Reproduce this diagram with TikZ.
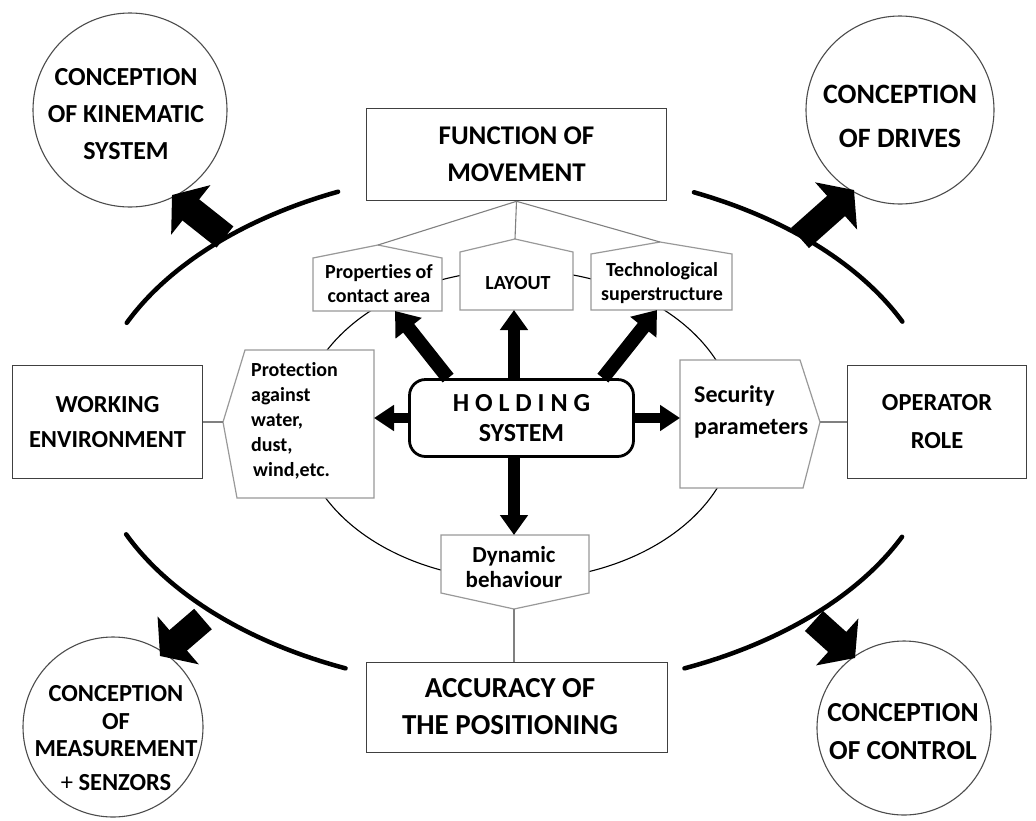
\documentclass[tikz,border=0pt]{standalone}
\usepackage{fontspec}
\setmainfont{Carlito}[Ligatures=NoCommon]
\usetikzlibrary{arrows.meta,shapes.geometric}
\begin{document}
\begin{tikzpicture}[x=1pt,y=-1pt,
  mainbox/.style={draw=black!75, line width=1.6pt, fill=white, inner sep=0pt, align=center},
  circ/.style={circle, draw=black!70, line width=1.1pt, fill=white, inner sep=0pt},
  ctext/.style={align=center, inner sep=0pt},
  pent/.style={draw=black!40, line width=1.2pt, fill=white},
  ptext/.style={align=center, inner sep=0pt, font=\fontsize{20}{24}\selectfont\bfseries},
  thinline/.style={draw=black!50, line width=1.1pt},
  bigarc/.style={line width=4.5pt, line cap=round},
  bigarr/.style={line width=27pt, -{Triangle[length=24pt,width=62pt]}},
  arrv/.style={line width=12pt, -{Triangle[length=20pt,width=27pt]}},
  arrd/.style={line width=14pt, -{Triangle[length=22pt,width=32pt]}},
  arrh/.style={line width=10pt, -{Triangle[length=20pt,width=25pt]}}
]
\useasboundingbox (0,0) rectangle (1036,820);

% outer broken ellipse
\draw[bigarc] plot[domain=114.6:156,samples=60] ({515+425*cos(\x)},{429-261*sin(\x)});
\draw[bigarc] plot[domain=24.3:65.1,samples=60] ({515+425*cos(\x)},{429-261*sin(\x)});
\draw[bigarc] plot[domain=203.8:246.5,samples=60] ({515+425*cos(\x)},{429-261*sin(\x)});
\draw[bigarc] plot[domain=293.5:335.6,samples=60] ({515+425*cos(\x)},{429-261*sin(\x)});

% inner ellipse
\draw[black, line width=1.1pt] (518,425) ellipse [x radius=218pt, y radius=155pt];

% circles
\node[circ, minimum size=194pt] (ck) at (130,110) {};
\node[circ, minimum size=188pt] (cd) at (900,110) {};
\node[circ, minimum size=180pt] (cm) at (113,727) {};
\node[circ, minimum size=174pt] (cc) at (904,728) {};
\node[ctext, font=\fontsize{26}{37}\selectfont\bfseries] (ckt) at (126,114) {CONCEPTION\\OF KINEMATIC\\SYSTEM};
\node[ctext, font=\fontsize{28}{44}\selectfont\bfseries] (cdt) at (900,116) {CONCEPTION\\OF DRIVES};
\node[ctext, font=\fontsize{24.5}{27.5}\selectfont\bfseries] (cmt) at (116,738) {CONCEPTION\\OF\\MEASUREMENT\\[6pt]\textmd{+} SENZORS};
\node[ctext, font=\fontsize{27.5}{38}\selectfont\bfseries] (cct) at (903,732) {CONCEPTION\\OF CONTROL};

% big arrows from the outer ellipse
\coordinate (kA) at (225,237); \coordinate (kT) at (172,195);
\coordinate (dA) at (800,238); \coordinate (dT) at (854,190);
\coordinate (mA) at (203,619); \coordinate (mT) at (160,656);
\coordinate (tA) at (814,621); \coordinate (tT) at (855,658);
\draw[bigarr] (kA) -- (kT);
\draw[bigarr] (dA) -- (dT);
\draw[bigarr] (mA) -- (mT);
\draw[bigarr] (tA) -- (tT);

% main boxes
\node[mainbox, minimum width=300pt, minimum height=92pt, font=\fontsize{27}{37}\selectfont\bfseries] (f) at (516.5,154.5) {FUNCTION OF\\MOVEMENT};
\node[mainbox, minimum width=190pt, minimum height=113pt, font=\fontsize{24.5}{35}\selectfont\bfseries] (w) at (107.5,422) {WORKING\\ENVIRONMENT};
\node[mainbox, minimum width=179pt, minimum height=113pt, font=\fontsize{24.5}{38}\selectfont\bfseries] (op) at (937,422) {OPERATOR\\ROLE};
\node[mainbox, minimum width=301pt, minimum height=90pt, font=\fontsize{29}{37}\selectfont\bfseries] (acc) at (517,707.5) {};
\node[ctext, font=\fontsize{29}{37}\selectfont\bfseries] (acct) at (510,707) {ACCURACY OF\\THE POSITIONING};

% pentagon boxes
\coordinate (paPk) at (378,245);
\coordinate (laPk) at (515,239);
\coordinate (tePk) at (660,242);
\coordinate (prPt) at (223,422);
\coordinate (sePt) at (820,422);
\coordinate (dyPt) at (514,609);
\draw[pent] (313,311) -- (442,311) -- (442,258) -- (paPk) -- (313,258) -- cycle;
\draw[pent] (460,310) -- (573,310) -- (573,252) -- (laPk) -- (460,252) -- cycle;
\draw[pent] (591,310) -- (732,310) -- (732,254) -- (tePk) -- (591,254) -- cycle;
\draw[pent] (245,350) -- (374,350) -- (374,498) -- (237,498) -- (prPt) -- cycle;
\draw[pent] (680,360) -- (800,360) -- (sePt) -- (803,488) -- (680,488) -- cycle;
\draw[pent] (441,535) -- (589,535) -- (589,593) -- (dyPt) -- (441,593) -- cycle;

\node[ptext] (pat) at (379,284) {Properties of\\contact area};
\node[ptext] (lat) at (518,283) {LAYOUT};
\node[ptext] (tet) at (662,283) {Technological\\superstructure};
\node[ptext, align=left, anchor=west, font=\fontsize{20}{25}\selectfont\bfseries] (prt) at (251,421) {Protection\\against\\water,\\dust,\\\hspace{2pt}wind,etc.};
\node[ptext, align=left, anchor=west, font=\fontsize{24}{32}\selectfont\bfseries] (set) at (694,412) {Security\\parameters};
\node[ptext, font=\fontsize{23}{25}\selectfont\bfseries] (dyt) at (514,567) {Dynamic\\behaviour};

% thin connectors
\draw[thinline] (f.south) -- (paPk);
\draw[thinline] (f.south) -- (laPk);
\draw[thinline] (f.south) -- (tePk);
\draw[thinline] (w.east) -- (prPt);
\draw[thinline] (sePt) -- (op.west);
\draw[thinline] (dyPt) -- (dyPt |- acc.north);

% holding system
\node[draw, line width=2.8pt, rounded corners=16pt, fill=white, minimum width=224pt, minimum height=77pt, inner sep=0pt, align=center, font=\fontsize{26}{30}\selectfont\bfseries] (h) at (521.5,418) {H O L D I N G\\SYSTEM};

\coordinate (paBot) at (395,311);
\coordinate (laBot) at (514,310);
\coordinate (teBot) at (657,310);
\coordinate (prR) at (374,418);
\coordinate (seL) at (680,418);
\coordinate (dyTop) at (514,535);
\draw[arrv] (h.north -| laBot) -- (laBot);
\draw[arrd] ([xshift=40pt]h.north west) -- (paBot);
\draw[arrd] ([xshift=-32pt]h.north east) -- (teBot);
\draw[arrh] (h.west) -- (prR);
\draw[arrh] (h.east) -- (seL);
\draw[arrv] (h.south -| dyTop) -- (dyTop);
\end{tikzpicture}
\end{document}
